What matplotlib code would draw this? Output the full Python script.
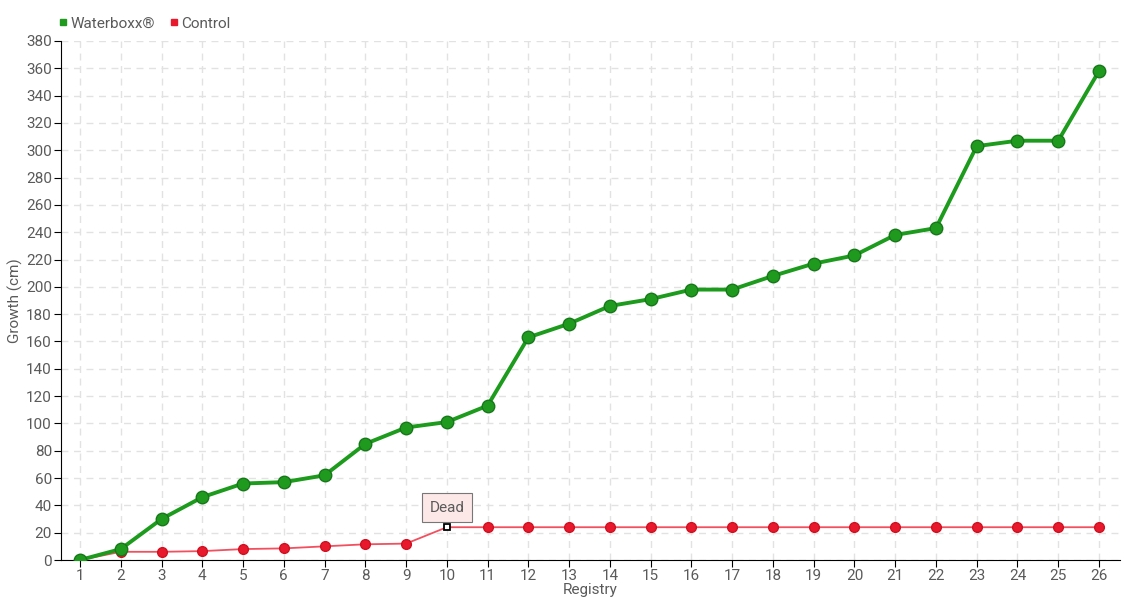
import numpy as np
import matplotlib.pyplot as plt
from matplotlib.lines import Line2D

registry = list(range(1, 27))
waterboxx = [0, 8, 30, 46, 56, 57, 62, 85, 97, 101, 113, 163, 173, 186, 191, 198, 198,
             208, 217, 223, 238, 243, 303, 307, 307, 358]
control = [0, 6, 6, 6.5, 8, 8.5, 10, 11.5, 12, 24, 24, 24, 24, 24, 24, 24, 24,
           24, 24, 24, 24, 24, 24, 24, 24, 24]
dead_idx = 9

plt.rcParams['font.family'] = ['Roboto', 'DejaVu Sans']
txt = '#5a5a5a'
fs = 11

fig = plt.figure(figsize=(11.4, 6), dpi=100)
ax = fig.add_axes([61 / 1140, 40 / 600, 1059 / 1140, 519 / 600])

ax.plot(registry, control, color='#f2505f', lw=1.3, zorder=3)
ctrl_x = [r for i, r in enumerate(registry) if i != dead_idx]
ctrl_y = [v for i, v in enumerate(control) if i != dead_idx]
ax.plot(ctrl_x, ctrl_y, 'o', ms=7, color='#e8192c', mec='#d01020', mew=1, zorder=4)
ax.plot(registry[dead_idx], control[dead_idx], 's', ms=4.5, mfc='white', mec='black', mew=1.3, zorder=5)

ax.plot(registry, waterboxx, color='#1d9b1d', lw=2.8, zorder=6)
ax.plot(registry, waterboxx, 'o', ms=9, color='#1f9a1f', mec='#17781a', mew=1, zorder=7)

ax.annotate('Dead', xy=(registry[dead_idx], control[dead_idx]), xytext=(0, 9),
            textcoords='offset points', ha='center', va='bottom', fontsize=fs, color=txt,
            bbox=dict(boxstyle='square,pad=0.5', fc='#fde8e8', ec='#777777', lw=0.8),
            zorder=8)

ax.set_xlim(0.534, 26.515)
ax.set_ylim(0, 380)
ax.set_xticks(registry)
ax.set_yticks(np.arange(0, 381, 20))
ax.grid(True, ls=(0, (5, 4)), color='#e2e2e2', lw=1)
ax.set_axisbelow(True)
for s in ['top', 'right']:
    ax.spines[s].set_visible(False)
ax.spines['left'].set_color('black')
ax.spines['bottom'].set_color('black')
ax.tick_params(direction='out', length=5, colors='black', labelcolor=txt, labelsize=fs, pad=1.5)
ax.set_xlabel('Registry', fontsize=fs, color=txt, labelpad=0)
ax.set_ylabel('Growth (cm)', fontsize=fs, color=txt)
ax.yaxis.set_label_coords(-0.036, 0.5)

handles = [Line2D([], [], marker='s', ls='', color='#1f9a1f', ms=5),
           Line2D([], [], marker='s', ls='', color='#e8192c', ms=5)]
fig.legend(handles, ['Waterboxx®', 'Control'], loc='upper left', bbox_to_anchor=(0.038, 0.995),
           ncol=2, frameon=False, fontsize=fs, labelcolor=txt, handletextpad=0.1,
           columnspacing=0.8, handlelength=0.8)

fig.savefig('out.png', dpi=100)
